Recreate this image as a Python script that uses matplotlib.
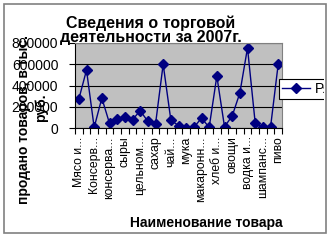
import matplotlib
matplotlib.use("Agg")
import matplotlib.pyplot as plt
import numpy as np
from matplotlib.patches import Rectangle

# data
sales = [272000, 545000, 5000, 282000, 44000, 81000, 100000, 78000, 163000,
         63000, 35000, 600000, 75000, 22000, 3000, 5000, 94000, 6000,
         488000, 12000, 113000, 329000, 754000, 50000, 5000, 5000, 598000]
# only every other category name is shown on the axis
shown_labels = ["Мясо и...", "Консерв...", "консерва...", "сыры", "цельном...",
                "сахар", "чай...", "мука", "макаронн...", "хлеб и...",
                "овощи", "водка и...", "шампанс...", "пиво"]
y_ticks = [0, 200000, 400000, 600000, 800000]
series_name = "Ряд1"

plt.rcParams['font.family'] = ['Liberation Sans', 'DejaVu Sans']

W, H = 332, 240
fig = plt.figure(figsize=(W / 100, H / 100), dpi=100)

# plot area (pixel box 75..282 x 43..128)
ax = fig.add_axes([75 / W, 1 - 128 / H, 207 / W, 85 / H])
ax.set_facecolor('#c0c0c0')

n = len(sales)
x = np.arange(n)
ax.plot(x, sales, color='#000080', lw=1, marker='D', ms=5, label=series_name)

ax.set_xlim(-0.5, n - 0.5)
ax.set_ylim(0, 800000)

ax.set_yticks(y_ticks)
ax.set_yticklabels([str(v) for v in y_ticks], fontsize=10)
ax.tick_params(axis='y', length=4, width=0.8, pad=8)
ax.grid(axis='y', color='black', lw=0.8)
ax.set_axisbelow(True)

# category labels at every second point, tick marks between categories
ax.set_xticks(x[::2])
ax.set_xticklabels(shown_labels, rotation=90, fontsize=8.8)
ax.tick_params(axis='x', which='major', length=0, pad=6)
ax.set_xticks(np.arange(-0.5, n, 1), minor=True)
ax.tick_params(axis='x', which='minor', length=4, width=0.8, direction='out')

for side in ['left', 'bottom']:
    ax.spines[side].set_color('black')
    ax.spines[side].set_linewidth(0.8)
for side in ['top', 'right']:
    ax.spines[side].set_color('#808080')
    ax.spines[side].set_linewidth(0.8)

# titles
fig.text(151 / W, 1 - 30 / H, "Сведения о торговой\nдеятельности за 2007г.",
         ha='center', va='center', fontsize=11.5, weight='bold', linespacing=0.95)
fig.text(24 / W, 1 - 119 / H, "продано товаров, в тыс.", rotation=90,
         ha='center', va='center', fontsize=10, weight='bold')
fig.text(41 / W, 1 - 108 / H, "руб.", rotation=90,
         ha='center', va='center', fontsize=10, weight='bold')
fig.text(206 / W, 1 - 223 / H, "Наименование товара",
         ha='center', va='center', fontsize=10, weight='bold')

# legend, cut off at the right edge like in the original
leg = ax.legend(loc='upper left', bbox_to_anchor=(279 / W, 1 - 79 / H),
                bbox_transform=fig.transFigure, fancybox=False, framealpha=1,
                edgecolor='black', fontsize=10, borderpad=0.2,
                handlelength=2.0, handletextpad=0.4, borderaxespad=0)
leg.get_frame().set_linewidth(0.8)
clip = Rectangle((0, 0), 324 / W, 1, transform=fig.transFigure)
leg.get_frame().set_clip_path(clip)
for t in leg.get_texts():
    t.set_clip_path(clip)

# outer chart border
fig.add_artist(Rectangle((4 / W, 7 / H), 322 / W, 229 / H, transform=fig.transFigure,
                         fill=False, edgecolor='#808080', lw=1.2))

fig.savefig('out.png', dpi=100)
